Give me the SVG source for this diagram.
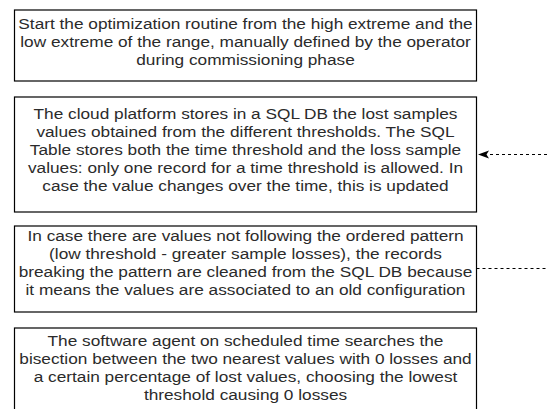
<svg xmlns="http://www.w3.org/2000/svg" width="547" height="409" viewBox="0 0 547 409">
<defs>
<style>
.box{fill:#fff;stroke:#000;stroke-width:1.2}
.t{font-family:"Liberation Sans",Arial,sans-serif;font-size:15.4px;fill:#2b2b2b;text-anchor:middle}
.edge{fill:none;stroke:#000;stroke-width:1;stroke-dasharray:3 3}
</style>
</defs>
<rect width="547" height="409" fill="#fff"/>
<g id="node1">
<rect class="box" x="14.5" y="10" width="462" height="71"/>
<g transform="translate(245.5,0) scale(1.12,1)">
<text class="t" x="0" y="29">Start the optimization routine from the high extreme and the</text>
<text class="t" x="0" y="47">low extreme of the range, manually defined by the operator</text>
<text class="t" x="0" y="65">during commissioning phase</text>
</g>
</g>
<g id="node2">
<rect class="box" x="14.5" y="97" width="462" height="115"/>
<g transform="translate(245.5,0) scale(1.12,1)">
<text class="t" x="0" y="119">The cloud platform stores in a SQL DB the lost samples</text>
<text class="t" x="0" y="137">values obtained from the different thresholds. The SQL</text>
<text class="t" x="0" y="155">Table stores both the time threshold and the loss sample</text>
<text class="t" x="0" y="173">values: only one record for a time threshold is allowed. In</text>
<text class="t" x="0" y="191">case the value changes over the time, this is updated</text>
</g>
</g>
<g id="node3">
<rect class="box" x="14.5" y="226" width="462" height="86"/>
<g transform="translate(245.5,0) scale(1.12,1)">
<text class="t" x="0" y="241">In case there are values not following the ordered pattern</text>
<text class="t" x="0" y="259">(low threshold - greater sample losses), the records</text>
<text class="t" x="0" y="277">breaking the pattern are cleaned from the SQL DB because</text>
<text class="t" x="0" y="295">it means the values are associated to an old configuration</text>
</g>
</g>
<g id="node4">
<rect class="box" x="14.5" y="328" width="462" height="90"/>
<g transform="translate(245.5,0) scale(1.12,1)">
<text class="t" x="0" y="346">The software agent on scheduled time searches the</text>
<text class="t" x="0" y="364">bisection between the two nearest values with 0 losses and</text>
<text class="t" x="0" y="382">a certain percentage of lost values, choosing the lowest</text>
<text class="t" x="0" y="400">threshold causing 0 losses</text>
</g>
</g>
<g id="connectors">
<path class="edge" d="M547,154.5 L488,154.5"/>
<path d="M478,154.5 L489,150.5 L486.5,154.5 L489,158.5 Z" fill="#000"/>
<path class="edge" d="M476.5,268.5 L547,268.5"/>
</g>
</svg>
